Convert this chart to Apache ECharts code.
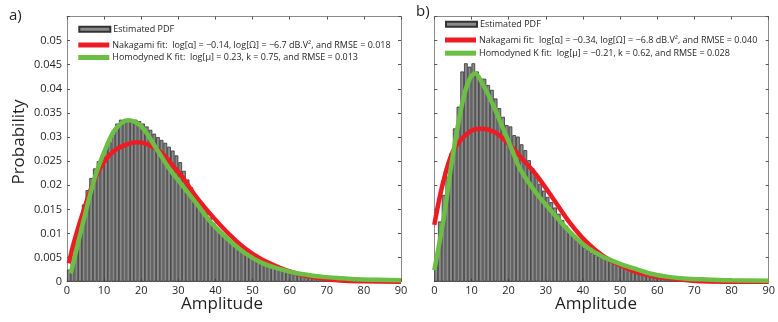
<!DOCTYPE html>
<html>
<head>
<meta charset="utf-8">
<script src="https://cdn.jsdelivr.net/npm/echarts@6/dist/echarts.min.js"></script>
<style>
html,body{margin:0;padding:0;background:#fff;}
#chart{width:778px;height:322px;}
</style>
</head>
<body>
<div id="chart"></div>
<script>
// ---- data ----
const xTicks = [0,10,20,30,40,50,60,70,80,90];
const binEdgesStart = 0;      // first bin starts at 0, bins are 1 unit wide
const binCount = 90;

// Panel a) estimated PDF (histogram heights, one per 1-unit bin)
const pdfA = [0.0025,0.005,0.008,0.0125,0.016,0.019,0.0215,0.0235,0.025,0.026,
  0.0275,0.029,0.0305,0.0328,0.0336,0.0337,0.0335,0.0337,0.0336,0.0333,
  0.0328,0.0322,0.0315,0.0307,0.0300,0.0294,0.0288,0.0280,0.0272,0.0262,
  0.0248,0.0230,0.0212,0.0196,0.0181,0.0168,0.0156,0.0144,0.0133,0.0122,
  0.0112,0.0102,0.0094,0.0087,0.0080,0.0074,0.0068,0.0063,0.0058,0.0054,
  0.0050,0.0046,0.0043,0.0040,0.0037,0.0034,0.0031,0.0029,0.0026,0.0024,
  0.0022,0.0020,0.0018,0.0016,0.0015,0.0013,0.0012,0.0011,0.0010,0.0009,
  0.0008,0.0007,0.0006,0.00055,0.0005,0.00045,0.0004,0.00035,0.0003,0.00028,
  0.00025,0.00022,0.0002,0.00018,0.00016,0.00014,0.00012,0.0001,0.0001,0.00008];

// Panel a) Nakagami fit, [amplitude, probability]
const nakaA = [[0.5,0.0038],[2,0.0085],[5,0.016],[7.5,0.0213],[10,0.0249],[13,0.0273],
  [16.5,0.0286],[19,0.0289],[22,0.0284],[25.5,0.0267],[29,0.0236],[31,0.0218],
  [34.5,0.0179],[39,0.0137],[43.5,0.0100],[48,0.0069],[52.5,0.0046],[57,0.0030],
  [61,0.0019],[65,0.0011],[70,0.0005],[75,0.0002],[80,0.0001],[90,0.0000]];

// Panel a) Homodyned K fit
const hkA = [[1,0.0017],[2.5,0.0065],[4.5,0.0128],[7.5,0.0216],[10.5,0.0278],[13,0.0316],
  [16.5,0.0335],[20,0.0322],[24,0.0277],[27.5,0.0235],[30,0.0210],[34.5,0.0166],
  [39,0.0121],[43.5,0.0087],[48,0.0059],[52.5,0.0039],[57,0.0027],[61,0.0019],
  [65,0.0014],[69,0.0010],[74,0.0007],[78,0.0005],[84,0.0004],[90,0.0003]];

// Panel b) estimated PDF
const pdfB = [0.0049,0.0125,0.018,0.0218,0.0266,0.0318,0.0363,0.0436,0.0453,0.0446,
  0.0453,0.0436,0.0422,0.0421,0.0408,0.0398,0.0380,0.0360,0.0342,0.0325,
  0.0322,0.0304,0.0301,0.0285,0.0273,0.0252,0.0235,0.0218,0.0203,0.0189,
  0.0176,0.0165,0.0154,0.0141,0.0128,0.0116,0.0105,0.0095,0.0086,0.0078,
  0.0071,0.0065,0.0060,0.0056,0.0052,0.0049,0.0045,0.0042,0.0039,0.0036,
  0.0034,0.0031,0.0029,0.0027,0.0025,0.0023,0.0021,0.0019,0.0017,0.0016,
  0.0014,0.0013,0.0012,0.0011,0.0010,0.0009,0.0008,0.0007,0.0006,0.00055,
  0.0005,0.00045,0.0004,0.00035,0.0003,0.00028,0.00025,0.00022,0.0002,0.00018,
  0.00016,0.00014,0.00012,0.0001,0.0001,0.00008,0.00007,0.00006,0.00005,0.00005];

// Panel b) Nakagami fit
const nakaB = [[0,0.0118],[2.4,0.0207],[5,0.0270],[8,0.0301],[10.5,0.0315],[13,0.0317],
  [16,0.0311],[18.5,0.0297],[21,0.0278],[24,0.0252],[27.5,0.0221],[32,0.0172],
  [36.5,0.0122],[41,0.0082],[45.5,0.0053],[50,0.0034],[54,0.0021],[58,0.0013],
  [63,0.0007],[67,0.0004],[72,0.0001],[80,0.0000],[90,0.0000]];

// Panel b) Homodyned K fit
const hkB = [[0,0.0024],[2.5,0.0131],[5,0.0263],[7.8,0.0380],[9.6,0.0422],[11,0.0432],
  [13,0.0410],[15.8,0.0367],[18.5,0.0318],[21,0.0272],[23,0.0235],[27.5,0.0183],
  [32,0.0142],[36.5,0.0103],[41,0.0072],[45.5,0.0051],[50,0.0037],[54,0.0027],
  [58,0.0017],[63,0.0010],[68,0.0006],[72,0.0005],[80,0.0003],[90,0.0002]];

const yTicks = [0,0.005,0.01,0.015,0.02,0.025,0.03,0.035,0.04,0.045,0.05];

const nameBars = 'Estimated PDF';
const nameNakaA = 'Nakagami fit:  log[\u03b1] = \u22120.14, log[\u03a9] = \u22126.7 dB.V\u00b2, and RMSE = 0.018';
const nameHkA = 'Homodyned K fit:  log[\u03bc] = 0.23, k = 0.75, and RMSE = 0.013';
const nameNakaB = 'Nakagami fit:  log[\u03b1] = \u22120.34, log[\u03a9] = \u22126.8 dB.V\u00b2, and RMSE = 0.040';
const nameHkB = 'Homodyned K fit:  log[\u03bc] = \u22120.21, k = 0.62, and RMSE = 0.028';

// ---- chart ----
const FONT = '"Open Sans", "Liberation Sans", sans-serif';
const TXT = '#231f20';
const RED = '#ed1c24';
const GREEN = '#6cbe45';
const AXC = '#8a8a8a';

const binCenters = Array.from({length: binCount}, (_, i) => binEdgesStart + i + 0.5);

const chart = echarts.init(document.getElementById('chart'), null, {renderer: 'canvas'});

function xAx(grid, pos, labels) {
  return {
    gridIndex: grid, type: 'value', position: pos, min: 0, max: 90, interval: 10,
    axisLine: {show: true, onZero: false, lineStyle: {color: AXC, width: 1}},
    axisTick: {show: true, inside: true, length: 3, lineStyle: {color: '#555'}},
    axisLabel: {show: labels, color: TXT, fontFamily: FONT, fontSize: 11, margin: 4},
    splitLine: {show: false}
  };
}
function yAx(grid, pos, labels) {
  return {
    gridIndex: grid, type: 'value', position: pos, min: 0, max: 0.055, interval: 0.005,
    axisLine: {show: true, onZero: false, lineStyle: {color: AXC, width: 1}},
    axisTick: {show: true, inside: true, length: 3, lineStyle: {color: '#555'}},
    axisLabel: {show: labels, color: TXT, fontFamily: FONT, fontSize: 11, margin: 5,
      formatter: v => (v > 0.0505 ? '' : String(+v.toFixed(3)))},
    splitLine: {show: false}
  };
}
function legendItem(name, left, centerY) {
  return {
    data: [{name: name, icon: 'rect'}], left: left, top: centerY - 6, padding: 0,
    itemWidth: 31, itemHeight: 5, itemGap: 0, selectedMode: false,
    textStyle: {color: TXT, fontFamily: FONT, fontSize: 9, padding: [0, 0, 0, -2]}
  };
}
function barSeries(xi, values) {
  return {
    name: nameBars, type: 'bar', xAxisIndex: xi, yAxisIndex: xi,
    data: binCenters.map((c, i) => [c, values[i]]),
    barWidth: 3.72, barGap: '-100%',
    itemStyle: {color: '#8a8a8a', borderColor: '#333', borderWidth: 0.8},
    z: 2
  };
}
function lineSeries(name, xi, pts, color, z) {
  return {
    name: name, type: 'line', xAxisIndex: xi, yAxisIndex: xi, data: pts,
    smooth: 0.35, showSymbol: false, symbol: 'none',
    lineStyle: {color: color, width: 4.5}, itemStyle: {color: color}, z: z
  };
}

chart.setOption({
  animation: false,
  backgroundColor: '#fff',
  grid: [
    {left: 67, top: 16.5, width: 334, height: 265.2},
    {left: 434.3, top: 16.5, width: 335.7, height: 265.2}
  ],
  xAxis: [xAx(0, 'bottom', true), xAx(0, 'top', false), xAx(1, 'bottom', true), xAx(1, 'top', false)],
  yAxis: [yAx(0, 'left', true), yAx(0, 'right', false), yAx(1, 'left', false), yAx(1, 'right', false)],
  legend: [
    legendItem(nameBars, 78.3, 30.7),
    legendItem(nameNakaA, 78.3, 46.5),
    legendItem(nameHkA, 78.3, 59),
    legendItem(nameBars, 445, 25.8),
    legendItem(nameNakaB, 445, 41.5),
    legendItem(nameHkB, 445, 54.7)
  ],
  series: [
    barSeries(0, pdfA),
    lineSeries(nameNakaA, 0, nakaA, RED, 3),
    lineSeries(nameHkA, 0, hkA, GREEN, 4),
    barSeries(2, pdfB),
    lineSeries(nameNakaB, 2, nakaB, RED, 3),
    lineSeries(nameHkB, 2, hkB, GREEN, 4)
  ],
  graphic: [
    {type: 'text', left: 9, top: 8, style: {text: 'a)', fontSize: 15, fontFamily: FONT, fill: TXT}},
    {type: 'text', left: 416, top: 4, style: {text: 'b)', fontSize: 15, fontFamily: FONT, fill: TXT}},
    {type: 'text', x: 19, y: 142, rotation: Math.PI / 2,
      style: {text: 'Probability', fontSize: 17, fontFamily: FONT, fill: TXT, align: 'center', verticalAlign: 'middle'}},
    {type: 'text', x: 222, y: 304,
      style: {text: 'Amplitude', fontSize: 17, fontFamily: FONT, fill: TXT, align: 'center', verticalAlign: 'middle'}},
    {type: 'text', x: 596, y: 304,
      style: {text: 'Amplitude', fontSize: 17, fontFamily: FONT, fill: TXT, align: 'center', verticalAlign: 'middle'}}
  ]
});
</script>
</body>
</html>
